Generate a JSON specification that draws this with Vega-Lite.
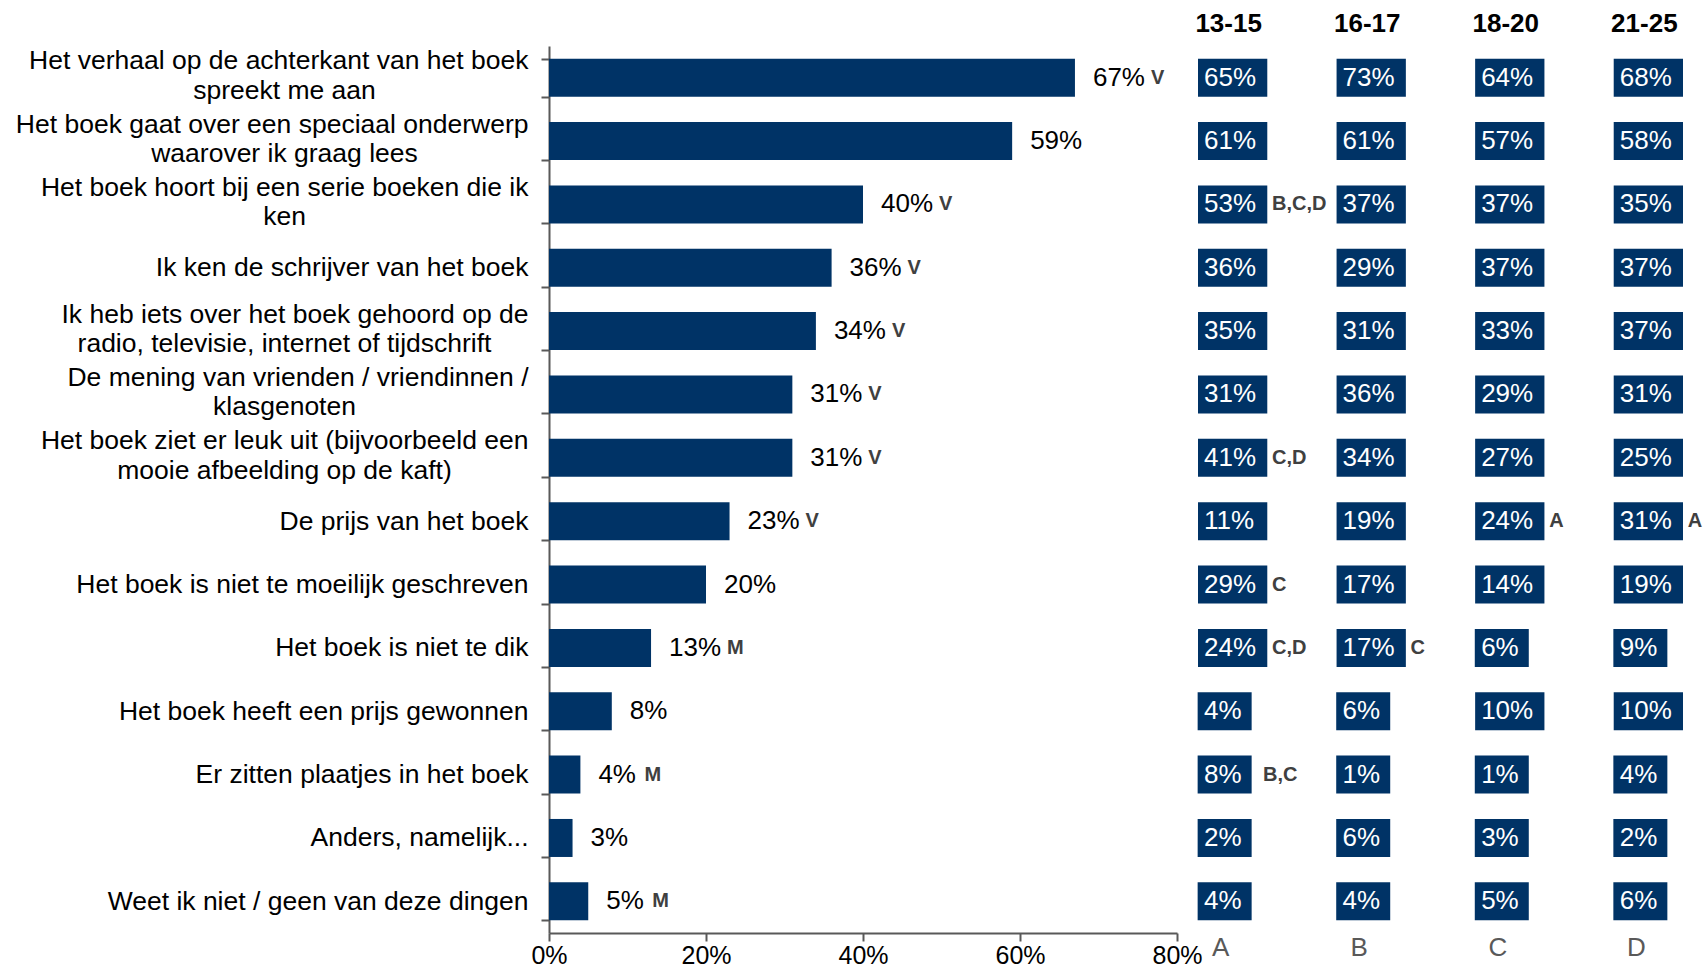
{
  "$schema": "https://vega.github.io/schema/vega-lite/v6.json",
  "autosize": {"type": "none"},
  "padding": {"left": 549, "top": 46, "right": 1158, "bottom": 924},
  "background": "white",
  "config": {
    "font": "Liberation Sans",
    "view": {"stroke": null},
    "axis": {"grid": false, "title": null}
  },
  "datasets": {
    "bars": [
      {"cat": "Het verhaal op de achterkant van het boek\nspreekt me aan", "v": 0.67, "sig": "V"},
      {"cat": "Het boek gaat over een speciaal onderwerp\nwaarover ik graag lees", "v": 0.59, "sig": ""},
      {"cat": "Het boek hoort bij een serie boeken die ik\nken", "v": 0.40, "sig": "V"},
      {"cat": "Ik ken de schrijver van het boek", "v": 0.36, "sig": "V"},
      {"cat": "Ik heb iets over het boek gehoord op de\nradio, televisie, internet of tijdschrift", "v": 0.34, "sig": "V"},
      {"cat": "De mening van vrienden / vriendinnen /\nklasgenoten", "v": 0.31, "sig": "V"},
      {"cat": "Het boek ziet er leuk uit (bijvoorbeeld een\nmooie afbeelding op de kaft)", "v": 0.31, "sig": "V"},
      {"cat": "De prijs van het boek", "v": 0.23, "sig": "V"},
      {"cat": "Het boek is niet te moeilijk geschreven", "v": 0.20, "sig": ""},
      {"cat": "Het boek is niet te dik", "v": 0.13, "sig": "M"},
      {"cat": "Het boek heeft een prijs gewonnen", "v": 0.08, "sig": ""},
      {"cat": "Er zitten plaatjes in het boek", "v": 0.04, "sig": "M"},
      {"cat": "Anders, namelijk...", "v": 0.03, "sig": ""},
      {"cat": "Weet ik niet / geen van deze dingen", "v": 0.05, "sig": "M"}
    ],
    "boxes": [
      {"cat": "Het verhaal op de achterkant van het boek\nspreekt me aan", "col": "A", "v": 0.65, "sig": ""},
      {"cat": "Het verhaal op de achterkant van het boek\nspreekt me aan", "col": "B", "v": 0.73, "sig": ""},
      {"cat": "Het verhaal op de achterkant van het boek\nspreekt me aan", "col": "C", "v": 0.64, "sig": ""},
      {"cat": "Het verhaal op de achterkant van het boek\nspreekt me aan", "col": "D", "v": 0.68, "sig": ""},
      {"cat": "Het boek gaat over een speciaal onderwerp\nwaarover ik graag lees", "col": "A", "v": 0.61, "sig": ""},
      {"cat": "Het boek gaat over een speciaal onderwerp\nwaarover ik graag lees", "col": "B", "v": 0.61, "sig": ""},
      {"cat": "Het boek gaat over een speciaal onderwerp\nwaarover ik graag lees", "col": "C", "v": 0.57, "sig": ""},
      {"cat": "Het boek gaat over een speciaal onderwerp\nwaarover ik graag lees", "col": "D", "v": 0.58, "sig": ""},
      {"cat": "Het boek hoort bij een serie boeken die ik\nken", "col": "A", "v": 0.53, "sig": "B,C,D"},
      {"cat": "Het boek hoort bij een serie boeken die ik\nken", "col": "B", "v": 0.37, "sig": ""},
      {"cat": "Het boek hoort bij een serie boeken die ik\nken", "col": "C", "v": 0.37, "sig": ""},
      {"cat": "Het boek hoort bij een serie boeken die ik\nken", "col": "D", "v": 0.35, "sig": ""},
      {"cat": "Ik ken de schrijver van het boek", "col": "A", "v": 0.36, "sig": ""},
      {"cat": "Ik ken de schrijver van het boek", "col": "B", "v": 0.29, "sig": ""},
      {"cat": "Ik ken de schrijver van het boek", "col": "C", "v": 0.37, "sig": ""},
      {"cat": "Ik ken de schrijver van het boek", "col": "D", "v": 0.37, "sig": ""},
      {"cat": "Ik heb iets over het boek gehoord op de\nradio, televisie, internet of tijdschrift", "col": "A", "v": 0.35, "sig": ""},
      {"cat": "Ik heb iets over het boek gehoord op de\nradio, televisie, internet of tijdschrift", "col": "B", "v": 0.31, "sig": ""},
      {"cat": "Ik heb iets over het boek gehoord op de\nradio, televisie, internet of tijdschrift", "col": "C", "v": 0.33, "sig": ""},
      {"cat": "Ik heb iets over het boek gehoord op de\nradio, televisie, internet of tijdschrift", "col": "D", "v": 0.37, "sig": ""},
      {"cat": "De mening van vrienden / vriendinnen /\nklasgenoten", "col": "A", "v": 0.31, "sig": ""},
      {"cat": "De mening van vrienden / vriendinnen /\nklasgenoten", "col": "B", "v": 0.36, "sig": ""},
      {"cat": "De mening van vrienden / vriendinnen /\nklasgenoten", "col": "C", "v": 0.29, "sig": ""},
      {"cat": "De mening van vrienden / vriendinnen /\nklasgenoten", "col": "D", "v": 0.31, "sig": ""},
      {"cat": "Het boek ziet er leuk uit (bijvoorbeeld een\nmooie afbeelding op de kaft)", "col": "A", "v": 0.41, "sig": "C,D"},
      {"cat": "Het boek ziet er leuk uit (bijvoorbeeld een\nmooie afbeelding op de kaft)", "col": "B", "v": 0.34, "sig": ""},
      {"cat": "Het boek ziet er leuk uit (bijvoorbeeld een\nmooie afbeelding op de kaft)", "col": "C", "v": 0.27, "sig": ""},
      {"cat": "Het boek ziet er leuk uit (bijvoorbeeld een\nmooie afbeelding op de kaft)", "col": "D", "v": 0.25, "sig": ""},
      {"cat": "De prijs van het boek", "col": "A", "v": 0.11, "sig": ""},
      {"cat": "De prijs van het boek", "col": "B", "v": 0.19, "sig": ""},
      {"cat": "De prijs van het boek", "col": "C", "v": 0.24, "sig": "A"},
      {"cat": "De prijs van het boek", "col": "D", "v": 0.31, "sig": "A"},
      {"cat": "Het boek is niet te moeilijk geschreven", "col": "A", "v": 0.29, "sig": "C"},
      {"cat": "Het boek is niet te moeilijk geschreven", "col": "B", "v": 0.17, "sig": ""},
      {"cat": "Het boek is niet te moeilijk geschreven", "col": "C", "v": 0.14, "sig": ""},
      {"cat": "Het boek is niet te moeilijk geschreven", "col": "D", "v": 0.19, "sig": ""},
      {"cat": "Het boek is niet te dik", "col": "A", "v": 0.24, "sig": "C,D"},
      {"cat": "Het boek is niet te dik", "col": "B", "v": 0.17, "sig": "C"},
      {"cat": "Het boek is niet te dik", "col": "C", "v": 0.06, "sig": ""},
      {"cat": "Het boek is niet te dik", "col": "D", "v": 0.09, "sig": ""},
      {"cat": "Het boek heeft een prijs gewonnen", "col": "A", "v": 0.04, "sig": ""},
      {"cat": "Het boek heeft een prijs gewonnen", "col": "B", "v": 0.06, "sig": ""},
      {"cat": "Het boek heeft een prijs gewonnen", "col": "C", "v": 0.10, "sig": ""},
      {"cat": "Het boek heeft een prijs gewonnen", "col": "D", "v": 0.10, "sig": ""},
      {"cat": "Er zitten plaatjes in het boek", "col": "A", "v": 0.08, "sig": "B,C"},
      {"cat": "Er zitten plaatjes in het boek", "col": "B", "v": 0.01, "sig": ""},
      {"cat": "Er zitten plaatjes in het boek", "col": "C", "v": 0.01, "sig": ""},
      {"cat": "Er zitten plaatjes in het boek", "col": "D", "v": 0.04, "sig": ""},
      {"cat": "Anders, namelijk...", "col": "A", "v": 0.02, "sig": ""},
      {"cat": "Anders, namelijk...", "col": "B", "v": 0.06, "sig": ""},
      {"cat": "Anders, namelijk...", "col": "C", "v": 0.03, "sig": ""},
      {"cat": "Anders, namelijk...", "col": "D", "v": 0.02, "sig": ""},
      {"cat": "Weet ik niet / geen van deze dingen", "col": "A", "v": 0.04, "sig": ""},
      {"cat": "Weet ik niet / geen van deze dingen", "col": "B", "v": 0.04, "sig": ""},
      {"cat": "Weet ik niet / geen van deze dingen", "col": "C", "v": 0.05, "sig": ""},
      {"cat": "Weet ik niet / geen van deze dingen", "col": "D", "v": 0.06, "sig": ""}
    ]
  },
  "spacing": 21,
  "bounds": "flush",
  "hconcat": [
    {
      "width": 628,
      "height": 887,
      "data": {"name": "bars"},
      "layer": [
        {
          "mark": {"type": "bar", "color": "#003366"},
          "encoding": {
            "y": {
              "field": "cat", "type": "nominal", "sort": null,
              "scale": {"paddingInner": 0.4, "paddingOuter": 0.2},
              "axis": {
                "orient": "left", "tickBand": "extent", "tickSize": 8, "tickWidth": 2,
                "tickColor": "#595959", "domainColor": "#595959", "domainWidth": 2,
                "labelFontSize": 26.5, "labelColor": "#000000", "labelPadding": 13,
                "labelLimit": 0, "labelOverlap": false, "labelAlign": "right",
                "labelExpr": "indexof(datum.label, '\\n') >= 0 ? '' : datum.label"
              }
            },
            "x": {
              "field": "v", "type": "quantitative",
              "scale": {"domain": [0, 0.8], "nice": false},
              "axis": {
                "values": [0, 0.2, 0.4, 0.6, 0.8], "format": ".0%", "labelFlush": false,
                "tickSize": 8, "tickWidth": 2, "tickColor": "#595959",
                "domainColor": "#595959", "domainWidth": 2,
                "labelFontSize": 25, "labelColor": "#000000", "labelPadding": 2
              }
            }
          }
        },
        {
          "mark": {"type": "text", "align": "left", "baseline": "middle", "dx": 18, "fontSize": 26, "color": "#000000"},
          "encoding": {
            "y": {
              "field": "cat", "type": "nominal", "sort": null,
              "axis": {
                "orient": "left", "domain": false, "ticks": false,
                "values": [
                  "Het verhaal op de achterkant van het boek\nspreekt me aan",
                  "Het boek gaat over een speciaal onderwerp\nwaarover ik graag lees",
                  "Het boek hoort bij een serie boeken die ik\nken",
                  "Ik heb iets over het boek gehoord op de\nradio, televisie, internet of tijdschrift",
                  "De mening van vrienden / vriendinnen /\nklasgenoten",
                  "Het boek ziet er leuk uit (bijvoorbeeld een\nmooie afbeelding op de kaft)"
                ],
                "labelExpr": "split(datum.label, '\\n')[0]",
                "labelAlign": "right", "labelBaseline": "bottom", "labelOffset": -2.5, "labelPadding": 21,
                "labelFontSize": 26.5, "labelColor": "#000000", "labelLimit": 0, "labelOverlap": false
              }
            },
            "x": {"field": "v", "type": "quantitative"},
            "text": {"field": "v", "type": "quantitative", "format": ".0%"}
          }
        },
        {
          "transform": [{"filter": "datum.sig != ''"}],
          "mark": {"type": "text", "align": "left", "baseline": "middle", "dx": {"expr": "datum.v < 0.1 ? 64 : 76"}, "fontSize": 20, "fontWeight": "bold", "color": "#404040"},
          "encoding": {
            "y": {
              "field": "cat", "type": "nominal", "sort": null,
              "axis": {
                "orient": "left", "domain": false, "ticks": false,
                "values": [
                  "Het verhaal op de achterkant van het boek\nspreekt me aan",
                  "Het boek gaat over een speciaal onderwerp\nwaarover ik graag lees",
                  "Het boek hoort bij een serie boeken die ik\nken",
                  "Ik heb iets over het boek gehoord op de\nradio, televisie, internet of tijdschrift",
                  "De mening van vrienden / vriendinnen /\nklasgenoten",
                  "Het boek ziet er leuk uit (bijvoorbeeld een\nmooie afbeelding op de kaft)"
                ],
                "labelExpr": "split(datum.label, '\\n')[1]",
                "labelAlign": "center", "labelBaseline": "top", "labelPadding": 265,
                "labelFontSize": 26.5, "labelColor": "#000000", "labelLimit": 0, "labelOverlap": false
              }
            },
            "x": {"field": "v", "type": "quantitative"},
            "text": {"field": "sig", "type": "nominal"}
          }
        }
      ],
      "resolve": {"axis": {"y": "independent"}}
    },
    {
      "width": 485,
      "height": 887,
      "data": {"name": "boxes"},
      "layer": [
        {
          "transform": [{"filter": "datum.v >= 0.1"}],
          "mark": {"type": "rect", "color": "#003366"},
          "encoding": {
            "x": {
              "field": "col", "type": "nominal",
              "scale": {"paddingInner": 0.5, "paddingOuter": 0},
              "axis": {
                "orient": "top", "domain": false, "ticks": false, "labelAngle": 0,
                "labelFontSize": 26, "labelFontWeight": "bold", "labelColor": "#000000",
                "labelPadding": 10, "labelOffset": -4,
                "labelExpr": "datum.value == 'A' ? '13-15' : datum.value == 'B' ? '16-17' : datum.value == 'C' ? '18-20' : '21-25'"
              }
            },
            "y": {
              "field": "cat", "type": "nominal", "sort": null,
              "scale": {"paddingInner": 0.4, "paddingOuter": 0.2},
              "axis": null
            }
          }
        },
        {
          "transform": [{"filter": "datum.v < 0.1"}],
          "mark": {"type": "rect", "color": "#003366", "width": 54, "xOffset": -8},
          "encoding": {
            "x": {"field": "col", "type": "nominal", "axis": null},
            "y": {"field": "cat", "type": "nominal", "sort": null, "axis": null}
          }
        },
        {
          "mark": {"type": "text", "align": "left", "baseline": "middle", "dx": 6, "fontSize": 26, "color": "#ffffff"},
          "encoding": {
            "x": {
              "field": "col", "type": "nominal", "bandPosition": 0,
              "axis": {
                "orient": "bottom", "domain": false, "ticks": false, "labelAngle": 0,
                "labelFontSize": 26, "labelColor": "#595959", "labelPadding": 1, "labelOffset": -12
              }
            },
            "y": {"field": "cat", "type": "nominal", "sort": null, "axis": null},
            "text": {"field": "v", "type": "quantitative", "format": ".0%"}
          }
        },
        {
          "transform": [{"filter": "datum.sig != ''"}],
          "mark": {"type": "text", "align": "left", "baseline": "middle", "dx": {"expr": "datum.v < 0.1 ? 65 : 74"}, "fontSize": 20, "fontWeight": "bold", "color": "#404040"},
          "encoding": {
            "x": {"field": "col", "type": "nominal", "bandPosition": 0, "axis": null},
            "y": {"field": "cat", "type": "nominal", "sort": null, "axis": null},
            "text": {"field": "sig", "type": "nominal"}
          }
        }
      ],
      "resolve": {"axis": {"x": "independent"}}
    }
  ]
}
